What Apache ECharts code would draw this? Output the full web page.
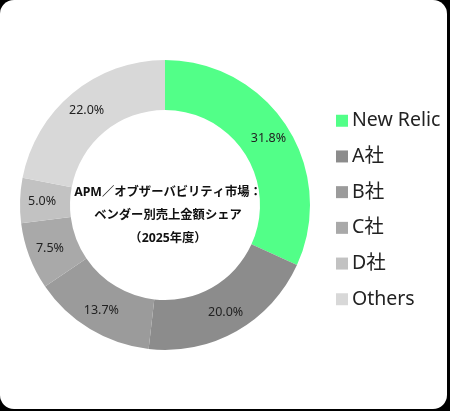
<!DOCTYPE html>
<html>
<head>
<meta charset="utf-8">
<script src="https://cdn.jsdelivr.net/npm/echarts@6/dist/echarts.min.js"></script>
<style>
html,body{margin:0;padding:0;background:#000;width:450px;height:411px;overflow:hidden;}
#card{position:absolute;left:0;top:0;width:447px;height:409px;background:#fff;border-radius:14px;overflow:hidden;}
#chart{width:447px;height:409px;}
</style>
</head>
<body>
<div id="card"><div id="chart"></div></div>
<script>
const categories = ['New Relic', 'A社', 'B社', 'C社', 'D社', 'Others'];
const shares = [31.8, 20.0, 13.7, 7.5, 5.0, 22.0];
const colors = ['#52ff88', '#8c8c8c', '#9b9b9b', '#a9a9a9', '#c2c2c2', '#d8d8d8'];
const centerTitle = 'APM／オブザーバビリティ市場：\nベンダー別売上金額シェア\n（2025年度）';

const font = '"Noto Sans", "Noto Sans CJK JP", sans-serif';
const chart = echarts.init(document.getElementById('chart'));
chart.setOption({
  animation: false,
  color: colors,
  legend: {
    orient: 'vertical',
    left: 331,
    top: 106,
    itemWidth: 12,
    itemHeight: 12,
    itemGap: 16.2,
    icon: 'rect',
    textStyle: { fontFamily: font, fontSize: 19.5, color: '#222', padding: [0, 0, 0, -1] },
    data: categories
  },
  graphic: [{
    type: 'text',
    x: 168,
    y: 215,
    style: {
      text: centerTitle,
      font: 'bold 12.3px ' + font,
      fill: '#111',
      textAlign: 'center',
      textVerticalAlign: 'middle',
      lineHeight: 23
    }
  }],
  series: [{
    type: 'pie',
    center: [165, 205],
    radius: [95, 145],
    startAngle: 90,
    clockwise: true,
    avoidLabelOverlap: false,
    label: {
      show: true,
      position: 'inside',
      formatter: p => p.value.toFixed(1) + '%',
      fontFamily: font,
      fontSize: 12.5,
      color: '#222'
    },
    labelLine: { show: false },
    itemStyle: { borderWidth: 0 },
    data: categories.map((c, i) => ({ name: c, value: shares[i] }))
  }]
});
</script>
</body>
</html>
